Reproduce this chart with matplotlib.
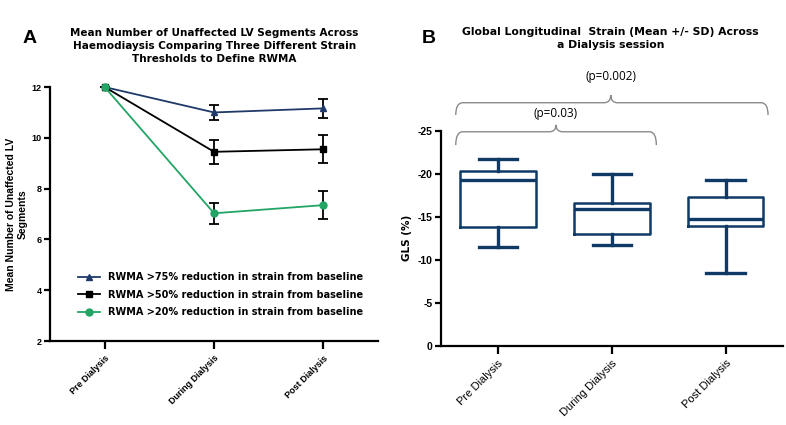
import matplotlib.pyplot as plt
from matplotlib.path import Path
from matplotlib.patches import PathPatch
from matplotlib.transforms import blended_transform_factory

plt.rcParams['font.family'] = ['Liberation Sans', 'DejaVu Sans']
plt.rcParams['axes.unicode_minus'] = False

# ---- data: panel A
stages = ['Pre Dialysis', 'During Dialysis', 'Post Dialysis']
labels_a = ['RWMA >75% reduction in strain from baseline',
            'RWMA >50% reduction in strain from baseline',
            'RWMA >20% reduction in strain from baseline']
mean75 = [12.0, 11.0, 11.16]
err75 = [0.0, 0.3, 0.36]
mean50 = [12.0, 9.45, 9.55]
err50 = [0.0, 0.48, 0.55]
mean20 = [12.0, 7.03, 7.35]
err20 = [0.0, 0.42, 0.55]

# ---- data: panel B (GLS %, box plot stats)
gls_whislo = [-11.44, -11.74, -8.42]
gls_q1 = [-13.84, -12.95, -13.95]
gls_med = [-19.3, -15.86, -14.77]
gls_q3 = [-20.35, -16.63, -17.29]
gls_whishi = [-21.7, -20.0, -19.27]
pvals = ['(p=0.03)', '(p=0.002)']

navy = '#1f3a68'
green = '#22a565'
boxc = '#0f3a66'
wide = ['DejaVu Sans']

fig = plt.figure(figsize=(7.86, 4.25), dpi=100)
axA = fig.add_axes([0.0636, 0.1976, 0.4175, 0.5976])
axB = fig.add_axes([0.561, 0.1866, 0.435, 0.5059])

x = range(len(stages))
series = [(mean75, err75, navy, '^', labels_a[0]),
          (mean50, err50, 'black', 's', labels_a[1]),
          (mean20, err20, green, 'o', labels_a[2])]
handles = []
for m, e, c, mk, lab in series:
    cont = axA.errorbar(x, m, yerr=e, color=c, ecolor='black', elinewidth=1.3,
                        capsize=3.5, capthick=1.3, marker=mk, markersize=5,
                        linewidth=1.3, label=lab, clip_on=False, zorder=3)
    handles.append(cont[0])

axA.set_xlim(-0.5, 2.5)
axA.set_ylim(2, 12)
axA.set_yticks([2, 4, 6, 8, 10, 12])
axA.set_xticks(list(x))
axA.set_xticklabels(stages, rotation=45, ha='right', rotation_mode='anchor',
                    fontsize=6.5, fontweight='bold')
for t in axA.get_yticklabels():
    t.set_fontsize(6.5)
    t.set_fontweight('bold')
axA.set_ylabel('Mean Number of Unaffected LV\nSegments', fontsize=7.5,
               fontweight='bold', labelpad=3)
axA.set_title('Mean Number of Unaffected LV Segments Across\n'
              'Haemodiaysis Comparing Three Different Strain\n'
              'Thresholds to Define RWMA', fontsize=7.5, fontweight='bold',
              pad=18, linespacing=1.4, family=wide)
leg = axA.legend(handles=handles, labels=labels_a, loc='lower left',
                 bbox_to_anchor=(0.06, 0.06), frameon=False,
                 prop=dict(family=wide, size=7, weight='bold'),
                 handlelength=2.2, labelspacing=0.75)

for ax in (axA, axB):
    ax.spines['top'].set_visible(False)
    ax.spines['right'].set_visible(False)
    ax.spines['left'].set_linewidth(1.6)
    ax.spines['bottom'].set_linewidth(1.6)
    ax.tick_params(axis='x', length=6, width=1.6, pad=3)
    ax.tick_params(axis='y', length=4, width=1.6, pad=2)

# ---- panel B
stats = []
for i in range(3):
    stats.append({'whislo': gls_whislo[i], 'q1': gls_q1[i], 'med': gls_med[i],
                  'q3': gls_q3[i], 'whishi': gls_whishi[i], 'fliers': []})
lw = 2.4
axB.bxp(stats, positions=list(range(3)), widths=0.66, showfliers=False,
        boxprops=dict(color=boxc, linewidth=1.8),
        medianprops=dict(color=boxc, linewidth=lw),
        whiskerprops=dict(color=boxc, linewidth=lw),
        capprops=dict(color=boxc, linewidth=lw), capwidths=0.34)
axB.set_xlim(-0.5, 2.5)
axB.set_ylim(0, -25)
axB.set_yticks([0, -5, -10, -15, -20, -25])
axB.set_xticks(range(3))
axB.set_xticklabels(stages, rotation=45, ha='right', rotation_mode='anchor',
                    fontsize=8)
for t in axB.get_yticklabels():
    t.set_fontsize(7.5)
    t.set_fontweight('bold')
axB.set_ylabel('GLS (%)', fontsize=7.5, fontweight='bold', labelpad=4,
               family=wide)


def brace(ax, x0, x1, xm, yline, yend, ytip, text, ytext):
    tr = blended_transform_factory(ax.transData, ax.transAxes)
    d = 0.06
    verts = [(x0, yend), (x0, yline), (x0 + d, yline),
             (xm - d, yline), (xm, yline), (xm, ytip),
             (xm, yline), (xm + d, yline),
             (x1 - d, yline), (x1, yline), (x1, yend)]
    codes = [Path.MOVETO, Path.CURVE3, Path.CURVE3,
             Path.LINETO, Path.CURVE3, Path.CURVE3,
             Path.CURVE3, Path.CURVE3,
             Path.LINETO, Path.CURVE3, Path.CURVE3]
    ax.add_patch(PathPatch(Path(verts, codes), fill=False, edgecolor='#8a8a8a',
                           linewidth=1.0, transform=tr, clip_on=False))
    ax.text(xm, ytext, text, transform=tr, ha='center', va='center',
            fontsize=8.5, family=['Open Sans', 'DejaVu Sans'])


brace(axB, -0.37, 1.39, 0.51, 0.995, 0.933, 1.027, pvals[0], 1.078)
brace(axB, -0.37, 2.37, 0.99, 1.130, 1.073, 1.166, pvals[1], 1.25)

fig.text(0.777, 0.909, 'Global Longitudinal  Strain (Mean +/- SD) Across\n'
         'a Dialysis session', ha='center', va='center', fontsize=7.8,
         fontweight='bold', linespacing=1.45, family=wide)

fig.text(0.029, 0.91, 'A', fontsize=14, fontweight='bold', va='center')
fig.text(0.536, 0.91, 'B', fontsize=14, fontweight='bold', va='center')

fig.savefig('out.png', dpi=100)
